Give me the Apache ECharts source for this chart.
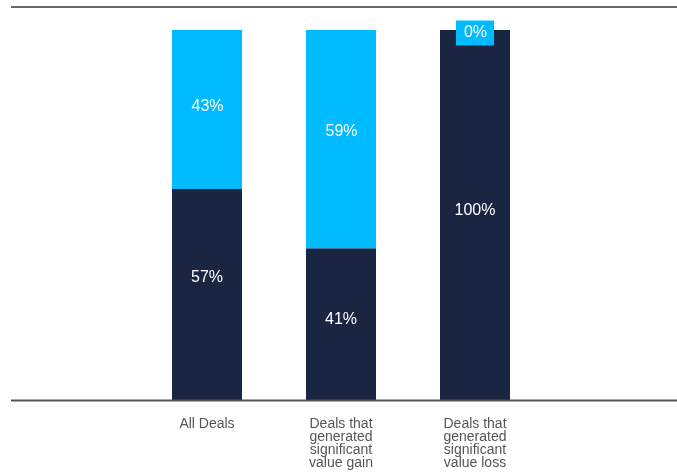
<!DOCTYPE html>
<html>
<head>
<meta charset="utf-8">
<script src="https://cdn.jsdelivr.net/npm/echarts@6/dist/echarts.min.js"></script>
<style>
  html, body { margin: 0; padding: 0; background: #fff; }
  #chart { width: 677px; height: 474px; }
</style>
</head>
<body>
<div id="chart"></div>
<script>
// empty slots at both ends keep the bars spaced like the original
const categories = ['', 'All Deals', 'Deals that\ngenerated\nsignificant\nvalue gain', 'Deals that\ngenerated\nsignificant\nvalue loss', ''];
const lossValues = [null, 57, 41, 100, null];
const gainValues = [null, 43, 59, 0, null];

// small vertical nudges for the in-bar labels (style only)
const lossLabelNudge = [0, -17, -5, -4, 0];
const gainLabelNudge = [0, -3, -8, 3, 0];

const NAVY = '#1a2542';
const CYAN = '#00bbff';
const FONT = 'Liberation Sans, Arial, sans-serif';

const chart = echarts.init(document.getElementById('chart'));

const pct = p => p.value + '%';

function withLabels(values, nudge, extra) {
  return values.map((v, i) => v === null ? null : {
    value: v,
    label: { offset: [0, nudge[i]], ...extra }
  });
}

chart.setOption({
  animation: false,
  grid: { left: 6, right: 1, top: 30, bottom: 74 },
  xAxis: {
    type: 'category',
    data: categories,
    axisLine: { show: false },
    axisTick: { show: false },
    axisLabel: {
      color: '#555',
      fontSize: 14,
      lineHeight: 13,
      margin: 18,
      interval: 0,
      fontFamily: FONT,
      verticalAlign: 'top',
      align: 'center'
    }
  },
  yAxis: {
    type: 'value',
    min: 0,
    max: 100,
    show: false
  },
  graphic: [
    {
      type: 'line',
      shape: { x1: 11, y1: 7, x2: 677, y2: 7 },
      style: { stroke: '#666', lineWidth: 2 }
    },
    {
      type: 'line',
      z: 10,
      shape: { x1: 11, y1: 400.5, x2: 677, y2: 400.5 },
      style: { stroke: '#555', lineWidth: 2 }
    }
  ],
  series: [
    {
      type: 'bar',
      stack: 'deals',
      barWidth: 70,
      data: withLabels(lossValues, lossLabelNudge, {}),
      itemStyle: { color: NAVY },
      label: {
        show: true,
        position: 'inside',
        color: '#fff',
        fontSize: 16,
        fontFamily: FONT,
        formatter: pct
      }
    },
    {
      type: 'bar',
      stack: 'deals',
      barWidth: 70,
      data: withLabels(gainValues, gainLabelNudge, {}),
      itemStyle: { color: CYAN },
      label: {
        show: true,
        position: 'inside',
        color: '#fff',
        fontSize: 16,
        fontFamily: FONT,
        formatter: pct,
        backgroundColor: CYAN,
        padding: [5, 7, 4, 8]
      }
    }
  ]
});
</script>
</body>
</html>
